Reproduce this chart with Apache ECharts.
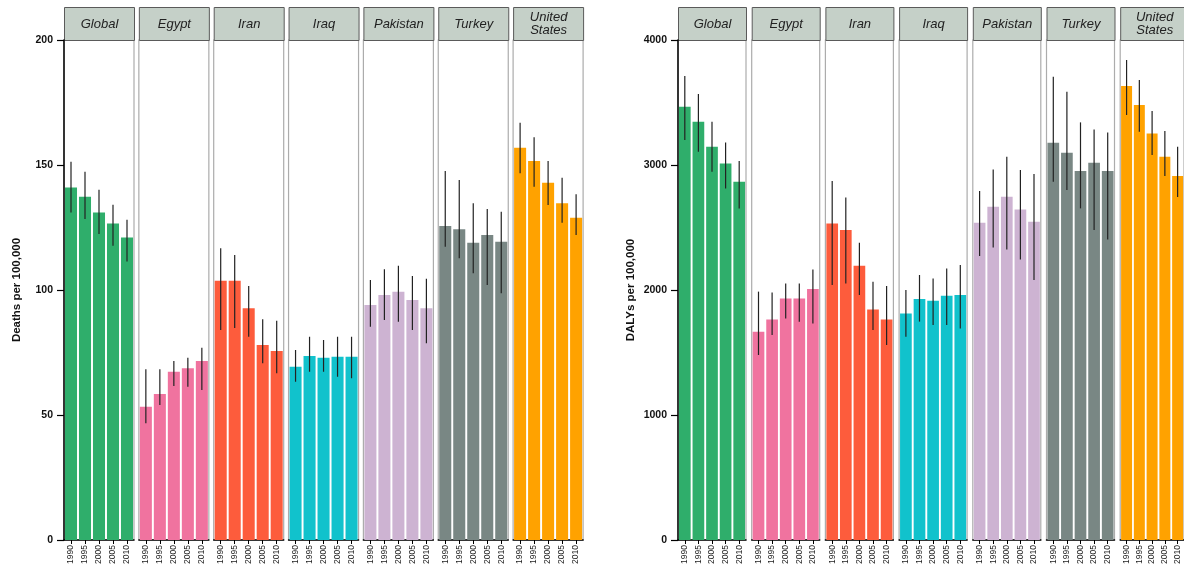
<!DOCTYPE html>
<html><head><meta charset="utf-8">
<script src="https://cdn.jsdelivr.net/npm/echarts@6/dist/echarts.min.js"></script>
<style>html,body{margin:0;padding:0;background:#fff}#c{width:1184px;height:578px}</style>
</head><body><div id="c"></div>
<script>
const years = ['1990','1995','2000','2005','2010'];
const regions = ['Global','Egypt','Iran','Iraq','Pakistan','Turkey','United States'];
const regionLabels = ['Global','Egypt','Iran','Iraq','Pakistan','Turkey','United\nStates'];
const colors = ['#2fae6b','#f0739f','#fd5c3c','#11c2cc','#cdb3d2','#798784','#ffa200'];

// Deaths per 100,000
const deaths = [
  [141.0,137.3,131.0,126.6,121.0],
  [53.3,58.4,67.3,68.7,71.6],
  [103.7,103.7,92.7,78.0,75.6],
  [69.3,73.6,72.9,73.3,73.3],
  [94.0,98.0,99.3,96.0,92.7],
  [125.6,124.3,118.9,122.0,119.3],
  [156.9,151.6,142.9,134.7,128.9]
];
const deathsLow = [
  [131.0,128.4,122.4,117.7,111.4],
  [46.7,54.0,61.6,61.3,60.0],
  [84.0,84.8,81.3,70.7,66.7],
  [63.3,67.3,67.3,65.3,64.7],
  [85.3,88.0,87.3,84.0,78.7],
  [117.3,112.7,106.7,102.0,98.7],
  [146.7,141.3,134.0,126.9,122.0]
];
const deathsHigh = [
  [151.3,147.3,140.1,134.1,128.1],
  [68.3,68.3,71.6,72.9,76.9],
  [116.7,114.0,101.6,88.3,87.7],
  [76.0,81.3,80.0,81.3,81.3],
  [104.0,108.3,109.7,105.6,104.5],
  [147.6,144.0,134.7,132.4,131.3],
  [166.9,161.1,151.6,144.9,138.3]
];

// DALYs per 100,000
const dalys = [
  [3467,3347,3147,3013,2867],
  [1667,1765,1933,1933,2008],
  [2533,2480,2195,1845,1765],
  [1813,1928,1915,1955,1960],
  [2539,2667,2747,2645,2547],
  [3179,3099,2952,3019,2952],
  [3632,3480,3253,3067,2912]
];
const dalysLow = [
  [3200,3107,2947,2813,2653],
  [1480,1640,1773,1747,1733],
  [2040,2053,1960,1680,1560],
  [1627,1747,1720,1720,1693],
  [2272,2341,2325,2245,2080],
  [2867,2800,2653,2480,2405],
  [3400,3267,3080,2912,2744]
];
const dalysHigh = [
  [3712,3568,3347,3181,3032],
  [1987,1981,2053,2053,2165],
  [2872,2741,2379,2067,2032],
  [2000,2120,2093,2173,2200],
  [2792,2965,3067,2960,2928],
  [3707,3587,3341,3285,3261],
  [3840,3680,3432,3272,3147]
];

const deathTicks = {min:0, max:200, interval:50};
const dalyTicks = {min:0, max:4000, interval:1000};

const panels = [
  {name:'Deaths per 100,000', vals:deaths, lo:deathsLow, hi:deathsHigh, ticks:deathTicks, start:64, step:74.85, width:70},
  {name:'DALYs per 100,000', vals:dalys, lo:dalysLow, hi:dalysHigh, ticks:dalyTicks, start:678, step:73.7, width:68}
];

const grid=[], xAxis=[], yAxis=[], series=[], graphic=[];
const TOP=40, BOTTOM=540, STRIP_TOP=7;
const font = '"Liberation Sans", Arial, sans-serif';

panels.forEach((p, pi) => {
  regions.forEach((r, ri) => {
    const gi = grid.length;
    const left = p.start + ri*p.step;
    grid.push({left:left, top:TOP, width:p.width, height:BOTTOM-TOP, show:true, borderColor:'#acacac', borderWidth:1.2, backgroundColor:'#fff'});
    xAxis.push({type:'category', gridIndex:gi, data:years,
      axisLine:{show:true, lineStyle:{color:'#000', width:1.5}},
      axisTick:{show:true, alignWithLabel:true, length:4, lineStyle:{color:'#000'}},
      axisLabel:{rotate:90, fontSize:8.5, color:'#222', margin:5, fontFamily:font}});
    const first = ri===0;
    yAxis.push({type:'value', gridIndex:gi, min:p.ticks.min, max:p.ticks.max, interval:p.ticks.interval,
      splitLine:{show:false},
      axisLine:{show:first, lineStyle:{color:'#000', width:1.5}},
      axisTick:{show:first, length:7, lineStyle:{color:'#000', width:1.2}},
      axisLabel:{show:first, fontSize:10.5, fontWeight:'bold', color:'#111', margin:11, fontFamily:font, formatter:(v)=>String(v)},
      name: first ? p.name : '', nameLocation:'middle', nameGap: first ? 41 : 0,
      nameTextStyle:{fontSize:11.5, fontWeight:'bold', color:'#111', fontFamily:font}});
    series.push({type:'bar', xAxisIndex:gi, yAxisIndex:gi, data:p.vals[ri], barWidth:'86%',
      itemStyle:{color:colors[ri]}, silent:true, animation:false});
    const eb = years.map((y, k) => [k, p.lo[ri][k], p.hi[ri][k]]);
    series.push({type:'custom', xAxisIndex:gi, yAxisIndex:gi, data:eb, animation:false, silent:true, z:5,
      renderItem:(params, api) => {
        const a = api.coord([api.value(0), api.value(1)]);
        const b = api.coord([api.value(0), api.value(2)]);
        return {type:'line', shape:{x1:a[0], y1:a[1], x2:b[0], y2:b[1]}, style:{stroke:'#222', lineWidth:1.2}};
      }});
    graphic.push({type:'group', left:left, top:STRIP_TOP, children:[
      {type:'rect', shape:{x:0, y:0, width:p.width, height:TOP-STRIP_TOP}, style:{fill:'#c5d0c8', stroke:'#5a5a5a', lineWidth:1}},
      {type:'text', x:p.width/2, y:(TOP-STRIP_TOP)/2, style:{text:regionLabels[ri], fill:'#222', font:'italic 13px '+font, align:'center', verticalAlign:'middle', lineHeight:13}}
    ]});
  });
});

const chart = echarts.init(document.getElementById('c'), null, {renderer:'canvas'});
chart.setOption({animation:false, grid, xAxis, yAxis, series, graphic});
</script></body></html>
